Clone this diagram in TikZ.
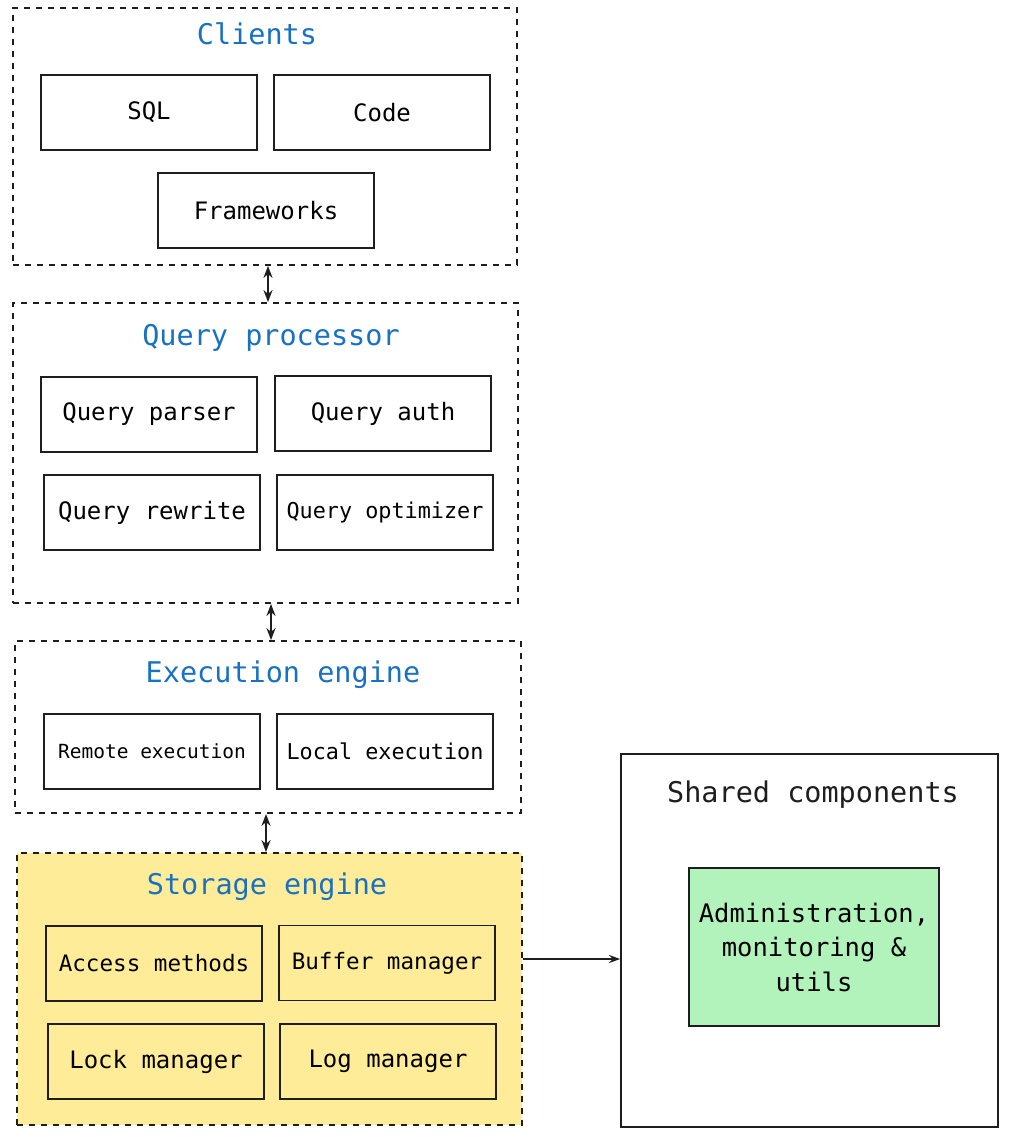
\documentclass[tikz,border=0pt]{standalone}
\usepackage{fontspec}
\setmainfont{DejaVu Sans Mono}
\usepackage{tikz}
\usetikzlibrary{arrows.meta,positioning}

\definecolor{titleblue}{HTML}{1971C2}
\definecolor{storeyellow}{HTML}{FFEC99}
\definecolor{sharedgreen}{HTML}{B2F2BB}
\definecolor{inkgray}{HTML}{1E1E1E}

\tikzset{
  box/.style={draw=inkgray, line width=1.8pt, minimum width=216pt, minimum height=75pt, inner sep=0pt, font=\fontsize{24}{29}\selectfont},
  group/.style={draw=inkgray, line width=1.8pt, dash pattern=on 6pt off 6pt, inner sep=0pt},
  grouptitle/.style={text=titleblue, font=\fontsize{28.5}{34}\selectfont},
  link/.style={draw=inkgray, line width=2pt, {Stealth[length=12pt,width=9pt]}-{Stealth[length=12pt,width=9pt]}},
}

\begin{document}
\begin{tikzpicture}[x=1pt,y=-1pt]
    \useasboundingbox[fill=white] (0,0) rectangle (1012,1140);
    % layer groups
    \node[group, minimum width=504pt, minimum height=257pt] (clients) at (265,136.5) {};
    \node[group, minimum width=505pt, minimum height=300pt] (qproc) at (265.5,453) {};
    \node[group, minimum width=506pt, minimum height=172pt] (exec) at (268,727) {};
    \node[group, fill=storeyellow, minimum width=505pt, minimum height=272pt] (storage) at (269.5,989) {};
    \node[draw=inkgray, line width=1.8pt, minimum width=377pt, minimum height=373pt] (shared) at (809.5,940.5) {};
    % titles
    \foreach \name/\x/\y/\txt in {clientsT/257/34/Clients, qprocT/271/338/Query processor,
        execT/283/675/Execution engine, storageT/267/887/Storage engine} {
      \node[grouptitle] (\name) at (\x,\y) {\txt};
    }
    \node[font=\fontsize{28.5}{34}\selectfont, text=inkgray] (sharedT) at (813,795) {Shared components};
    % components
    \foreach \name/\x/\y/\txt in {sql/149/112.5/SQL, code/382/112.5/Code, frameworks/266/210.5/Frameworks,
        qparser/149/414.5/Query parser, qauth/383/413.5/Query auth, qrewrite/152/512.5/Query rewrite,
        lock/156/1061.5/Lock manager, log/388/1061.5/Log manager} {
      \node[box] (\name) at (\x,\y) {\txt};
    }
    \node[box, font=\fontsize{22.6}{27}\selectfont] (access) at (154,963.5) {Access methods};
    \node[box, font=\fontsize{22.6}{27}\selectfont] (buffer) at (387,963) {Buffer manager};
    \node[box, font=\fontsize{21.8}{27}\selectfont] (qopt) at (385,512.5) {Query optimizer};
    \node[box, font=\fontsize{19.5}{24}\selectfont] (remote) at (152,751.5) {Remote execution};
    \node[box, font=\fontsize{21.8}{27}\selectfont] (local) at (385,751.5) {Local execution};
    \node[box, fill=sharedgreen, minimum width=250pt, minimum height=158pt, align=center,
      font=\fontsize{25.5}{34.5}\selectfont] (admin) at (814,947) {Administration,\\ monitoring \&\\ utils};
    % connectors
    \draw[link] ([xshift=3pt]clients.south) -- ([xshift=2.5pt]qproc.north);
    \draw[link] ([xshift=5.5pt]qproc.south) -- ([xshift=3pt]exec.north);
    \draw[link] ([xshift=-2pt]exec.south) -- ([xshift=-3.5pt]storage.north);
    \draw[draw=inkgray, line width=1.8pt, -{Stealth[length=11pt,width=8pt]}] ([yshift=30pt]storage.east) -- ([yshift=-18.5pt]shared.west);
\end{tikzpicture}
\end{document}
